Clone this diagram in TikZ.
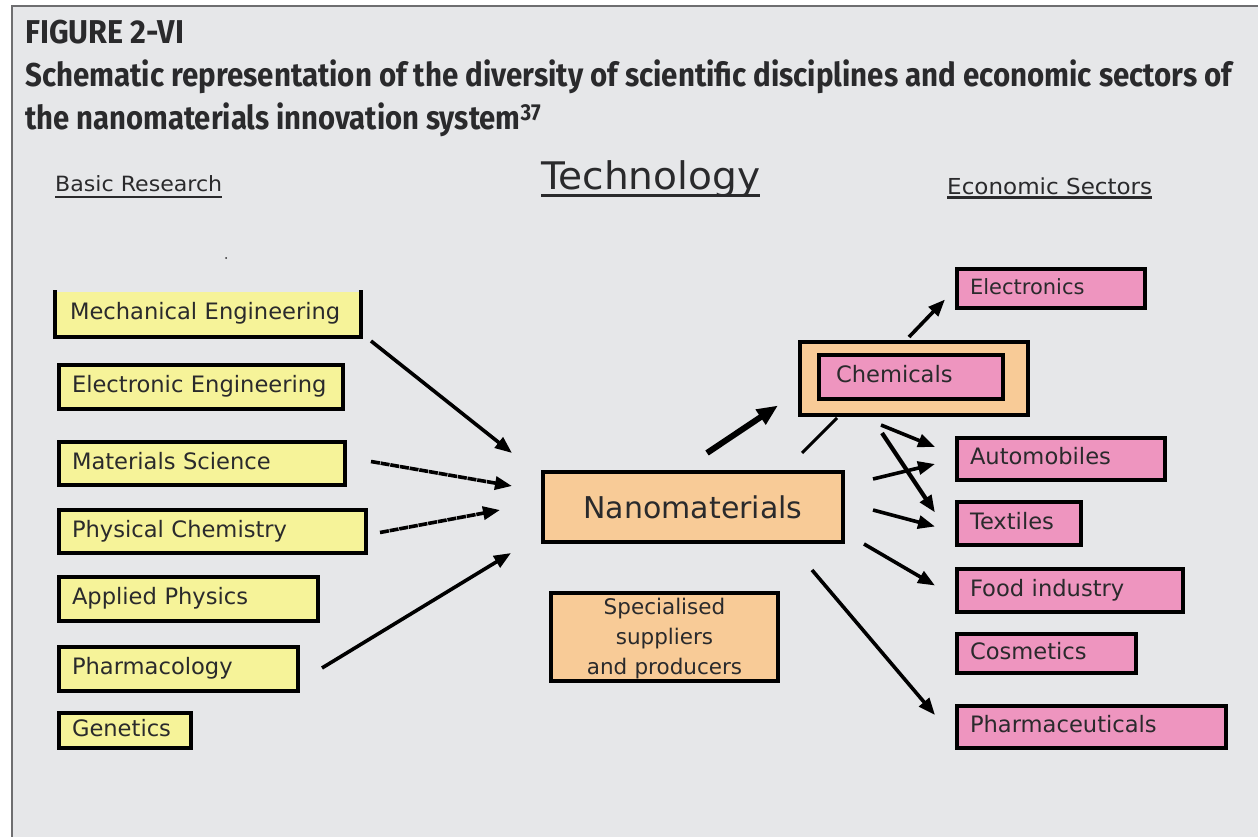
\documentclass[tikz,border=0pt]{standalone}
\usepackage{fontspec}
\usepackage{graphicx}
\usetikzlibrary{arrows.meta,calc}

\newfontfamily\boxfont{DejaVu Sans}
\newfontfamily\capfont{Fira Sans}

\definecolor{bgcol}{HTML}{E6E7E9}
\definecolor{framecol}{HTML}{6E6E70}
\definecolor{yel}{HTML}{F6F399}
\definecolor{pnk}{HTML}{EE95BF}
\definecolor{pch}{HTML}{F8CB97}
\definecolor{txt}{HTML}{2A2A2C}

\newcommand\fitwidth[2]{\resizebox{#1}{\height}{#2}}
\newcommand\fsz[1]{\fontsize{#1}{#1}\selectfont}
\hyphenpenalty=10000
\exhyphenpenalty=10000

\tikzset{
  box/.style={draw=black, line width=4pt, inner xsep=13pt, inner ysep=0pt,
    anchor=north west, align=left, text=txt, font=\boxfont\fsz{22.6},
    text height=17pt, text depth=6pt},
  ybox/.style={box, fill=yel},
  pbox/.style={box, fill=pnk},
  obox/.style={box, fill=pch},
  head/.style={inner sep=0pt, anchor=base west, text=txt},
  uline/.style={line width=2.6pt, draw=txt},
  arr/.style={line width=3.6pt, draw=black, -{Triangle[length=17pt,width=13pt]}},
  dasharr/.style={arr, dash pattern=on 9pt off 0.8pt},
  bigarr/.style={line width=6pt, draw=black, -{Triangle[length=21pt,width=17pt]}},
}

\begin{document}
\begin{tikzpicture}[x=1pt,y=-1pt]
\useasboundingbox (0,0) rectangle (1258,837);

% page and figure panel
\fill[white] (0,0) rectangle (1258,837);
\fill[bgcol] (12,6) rectangle (1258,837);
\draw[framecol, line width=2pt] (12,837) -- (12,6) -- (1258,6);

% caption
\node[head, font=\capfont\bfseries\fsz{33}] (fig) at (25,44)
  {\fitwidth{159pt}{FIGURE 2-VI}};
\node[head, font=\capfont\bfseries\fsz{33}] (cap1) at (25,87)
  {\fitwidth{1207pt}{Schematic representation of the diversity of scientific disciplines and economic sectors of}};
\node[head, font=\capfont\bfseries\fsz{33}] (cap2) at (25,130)
  {\fitwidth{516pt}{the nanomaterials innovation system\textsuperscript{37}}};

% column headings
\node[head, font=\boxfont\fsz{21}] (hbasic) at (55,192) {\fitwidth{167pt}{Basic Research}};
\node[head, font=\boxfont\fsz{38}] (htech) at (541,190) {\fitwidth{219pt}{Technology}};
\node[head, font=\boxfont\fsz{22}] (hecon) at (947,195) {\fitwidth{205pt}{Economic Sectors}};
\draw[uline] ($(hbasic.base west)+(0,5)$) -- ($(hbasic.base east)+(0,5)$);
\draw[uline, line width=3pt] ($(htech.base west)+(0,6)$) -- ($(htech.base east)+(0,6)$);
\draw[uline, line width=3pt] ($(hecon.base west)+(0,3)$) -- ($(hecon.base east)+(0,3)$);
\fill[txt] (226,258) circle (1pt);

% basic research disciplines
\node[ybox, draw=none, text width=276pt, minimum height=43pt] (mech) at (55,290) {Mechanical Engineering};
\draw[line width=4pt] (mech.north west) -- (mech.south west) -- (mech.south east) -- (mech.north east);
\node[ybox, text width=258pt, minimum height=44pt] (elec) at (57,363) {Electronic Engineering};
\node[ybox, text width=260pt, minimum height=43pt] (mat) at (57,440) {Materials Science};
\node[ybox, text width=281pt, minimum height=43pt] (phys) at (57,508) {Physical Chemistry};
\node[ybox, text width=233pt, minimum height=44pt] (appl) at (57,575) {Applied Physics};
\node[ybox, text width=213pt, minimum height=44pt] (pharm) at (57,645) {Pharmacology};
\node[ybox, text width=106pt, minimum height=35pt] (gen) at (57,711) {Genetics};

% technology
\node[obox, align=center, text width=274pt, minimum height=70pt,
      font=\boxfont\fsz{30}, text height=22pt, text depth=0pt] (nano) at (541,470) {Nanomaterials};
\node[obox, align=center, text width=201pt, minimum height=88pt,
      font=\boxfont\fontsize{21.5}{30}\selectfont, text height=16pt, text depth=62pt] (supp) at (549,591)
  {Specialised\\suppliers\\and producers};

% economic sectors
\node[obox, text width=202pt, minimum height=73pt, text height=0pt, text depth=0pt] (chemo) at (798,340) {};
\node[pbox, text width=150pt, minimum height=44pt, inner xsep=17pt] (chem) at (817,353) {Chemicals};
\node[pbox, text width=162pt, minimum height=39pt, font=\boxfont\fsz{21}, text height=15pt, text depth=4pt] (elx) at (955,267) {Electronics};
\node[pbox, text width=182pt, minimum height=42pt] (auto) at (955,436) {Automobiles};
\node[pbox, text width=98pt, minimum height=43pt] (tex) at (955,500) {Textiles};
\node[pbox, text width=200pt, minimum height=43pt] (food) at (955,567) {Food industry};
\node[pbox, text width=153pt, minimum height=39pt] (cosm) at (955,632) {Cosmetics};
\node[pbox, text width=243pt, minimum height=42pt] (phc) at (955,704) {Pharmaceuticals};

% disciplines feeding the technology
\draw[arr] ($(mech.south east)+(10,4)$) -- ($(nano.north west)+(-29,-17)$);
\draw[dasharr] ($(mat.east)+(24,-2)$) -- ($(nano.west)+(-29,-21)$);
\draw[dasharr] ($(phys.east)+(12,1)$) -- ($(nano.west)+(-41,3)$);
\draw[arr] ($(pharm.east)+(22,-1)$) -- ($(nano.south west)+(-30,9)$);

% technology towards the sectors
\draw[bigarr] ($(nano.north)+(14,-17)$) -- ($(chemo.west)+(-20,27)$);
\draw[line width=3pt] ($(nano.north east)+(-43,-17)$) -- ($(chemo.south west)+(39,1)$);
\draw[arr] ($(chemo.north)+(-5,-3)$) -- ($(elx.west)+(-10,11)$);
\draw[arr] ($(chemo.south)+(-33,8)$) -- ($(auto.west)+(-20,-12)$);
\draw[arr, line width=4.2pt] ($(chemo.south)+(-32,16)$) -- ($(tex.west)+(-20,-11)$);
\draw[arr] ($(nano.east)+(28,-28)$) -- ($(auto.west)+(-20,5)$);
\draw[arr] ($(nano.east)+(28,3)$) -- ($(tex.west)+(-20,3)$);
\draw[arr] ($(nano.south east)+(19,0)$) -- ($(food.west)+(-20,-5)$);
\draw[arr] ($(nano.south east)+(-33,26)$) -- ($(phc.west)+(-20,-12)$);
\end{tikzpicture}
\end{document}
